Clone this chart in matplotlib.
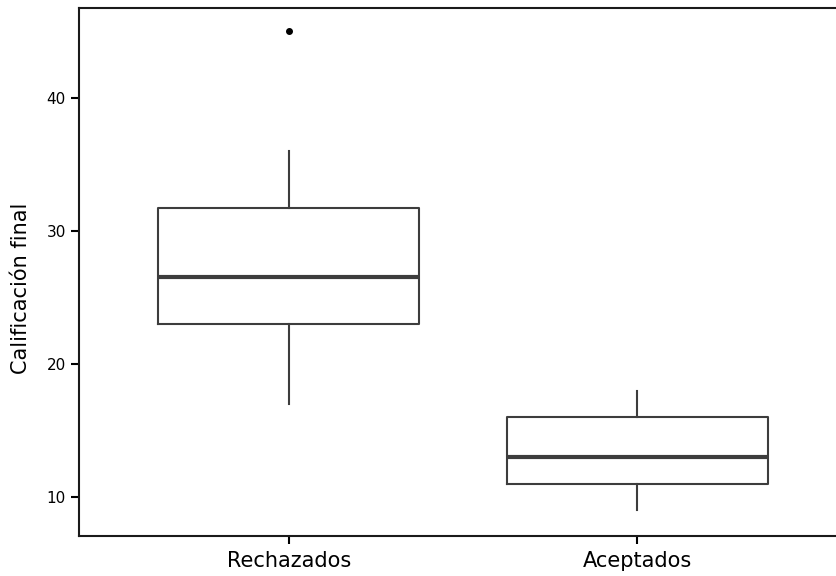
import matplotlib
matplotlib.use('Agg')
import matplotlib.pyplot as plt

# Box statistics
groups = ['Rechazados', 'Aceptados']
whisker_low = [17, 9]
q1 = [23, 11]
medians = [26.5, 13]
q3 = [31.75, 16]
whisker_high = [36, 18]
outliers = [[45], []]

stats = []
for i, name in enumerate(groups):
    stats.append({
        'label': name,
        'whislo': whisker_low[i],
        'q1': q1[i],
        'med': medians[i],
        'q3': q3[i],
        'whishi': whisker_high[i],
        'fliers': outliers[i],
    })

fig = plt.figure(figsize=(8.37, 5.76), dpi=100)
# axes reaches past the right edge, the reference is cropped there
ax = fig.add_axes([79 / 837, 1 - 536 / 576, (860 - 79) / 837, (536 - 8) / 576])

line_col = '#3d3d3d'
ax.bxp(stats, positions=[0, 1], widths=0.75, showcaps=False,
       boxprops=dict(color=line_col, linewidth=1.5),
       whiskerprops=dict(color=line_col, linewidth=1.5),
       medianprops=dict(color=line_col, linewidth=3),
       flierprops=dict(marker='o', markerfacecolor='black', markeredgecolor='black',
                       markersize=4))

ax.set_xlim(-0.602, 1.639)
ax.set_ylim(7.07, 46.75)
ax.set_yticks([10, 20, 30, 40])
ax.set_xticks([0, 1])
ax.set_xticklabels(groups, fontsize=15)
ax.tick_params(axis='y', labelsize=11, length=6, width=1.5, direction='out')
ax.tick_params(axis='x', length=6, width=1.5, direction='out', pad=5)
ax.set_ylabel('Calificación final', fontsize=15)
ax.yaxis.set_label_coords(-0.061, 0.47)
for s in ax.spines.values():
    s.set_linewidth(1.5)
    s.set_color('#1a1a1a')
ax.spines['right'].set_visible(False)

fig.savefig('out.png', dpi=100)
